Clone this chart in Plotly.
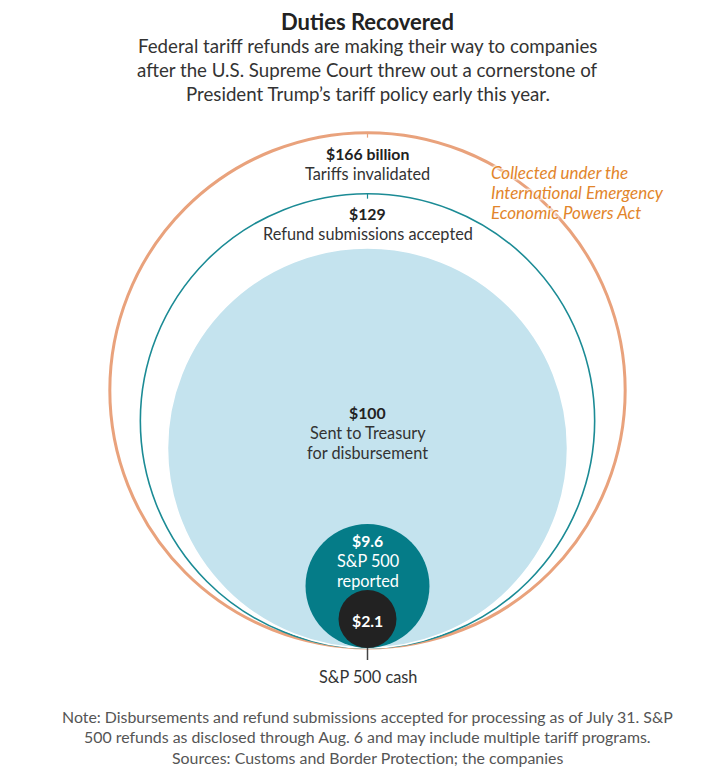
import numpy as np
import plotly.graph_objects as go

# nested totals, $ billions (circle area proportional to value)
values = [166, 129, 100, 9.6, 2.1]
headlines = ["$166 billion", "$129", "$100", "$9.6", "$2.1"]
captions = [["Tariffs invalidated"], ["Refund submissions accepted"],
            ["Sent to Treasury", "for disbursement"], ["S&P 500", "reported"], []]

title = "Duties Recovered"
subtitle = ["Federal tariff refunds are making their way to companies",
            "after the U.S. Supreme Court threw out a cornerstone of",
            "President Trump’s tariff policy early this year."]
side_note = ["Collected under the", "International Emergency", "Economic Powers Act"]
footnote = ["Note: Disbursements and refund submissions accepted for processing as of July 31. S&P",
            "500 refunds as disclosed through Aug. 6 and may include multiple tariff programs.",
            "Sources: Customs and Border Protection; the companies"]

W, H = 719, 779
CX, BOTTOM = 367.5, 648       # every circle sits on the same bottom point
SCALE = 20                    # px of radius per sqrt($bn)
FONT = "Lato"
HALO = "white 1px 1px 2px, white -1px -1px 2px, white 1px -1px 2px, white -1px 1px 2px"

radii = [SCALE * np.sqrt(v) for v in values]

fig = go.Figure()
fig.add_trace(go.Scatter(x=[0, W], y=[0, H], mode="markers",
                         marker=dict(opacity=0), hoverinfo="skip", showlegend=False))

styles = [
    dict(fillcolor="rgba(0,0,0,0)", line=dict(color="#E9A27C", width=3)),
    dict(fillcolor="rgba(0,0,0,0)", line=dict(color="#1B8B95", width=1.6)),
    dict(fillcolor="#C4E3EE", line=dict(color="white", width=1.5)),
    dict(fillcolor="#057C88", line=dict(color="#057C88", width=0)),
    dict(fillcolor="#222222", line=dict(color="#222222", width=0)),
]

for r, st in zip(radii, styles):
    fig.add_shape(type="circle", xref="x", yref="y", layer="below",
                  x0=CX - r, x1=CX + r, y0=BOTTOM - 2 * r, y1=BOTTOM, **st)

# small ticks at the top of the two outline circles
for r, st in zip(radii[:2], styles[:2]):
    top = BOTTOM - 2 * r
    fig.add_shape(type="line", x0=CX, x1=CX, y0=top, y1=top + 5, layer="below",
                  line=dict(color=st["line"]["color"], width=1.2))

# leader line to "S&P 500 cash"
fig.add_shape(type="line", x0=CX, x1=CX, y0=BOTTOM, y1=BOTTOM + 12, layer="below",
              line=dict(color="#444444", width=1.5))


def label(y, text, size=16.3, color="#333333", bold=False, x=CX, xanchor="center",
          italic=False, shadow="none"):
    if bold:
        text = f"<b>{text}</b>"
    if italic:
        text = f"<i>{text}</i>"
    fig.add_annotation(x=x, y=y, xref="x", yref="y", text=text, showarrow=False,
                       xanchor=xanchor, yanchor="middle",
                       font=dict(family=FONT, size=size, color=color, shadow=shadow))


# circle labels
head_y = [153, 213, 412, 540, 620]
for head, caps, hy, i in zip(headlines, captions, head_y, range(5)):
    white = i >= 3
    label(hy, head, size=15.8, bold=True, color="white" if white else "#222222")
    for k, cap in enumerate(caps):
        label(hy + 20 * (k + 1), cap, color="white" if white else "#333333")

label(676, "S&P 500 cash")

for k, line in enumerate(side_note):
    label(172 + 20 * k, line, x=489, xanchor="left", italic=True, size=17,
          color="#E2852B", shadow=HALO)

# title block
label(21, title, size=22, bold=True, color="#222222")
for k, line in enumerate(subtitle):
    label(46 + 24 * k, line, size=18.7, color="#333333")

for k, line in enumerate(footnote):
    label(716 + 20.5 * k, line, size=15.9, color="#555555")

fig.update_layout(
    width=W, height=H,
    margin=dict(l=0, r=0, t=0, b=0),
    plot_bgcolor="white", paper_bgcolor="white",
    xaxis=dict(range=[0, W], visible=False, fixedrange=True),
    yaxis=dict(range=[H, 0], visible=False, fixedrange=True),
    showlegend=False,
)

fig.write_html("out.html", config=dict(displayModeBar=False),
               post_script="document.body.style.margin='0';document.body.style.overflow='hidden';")
